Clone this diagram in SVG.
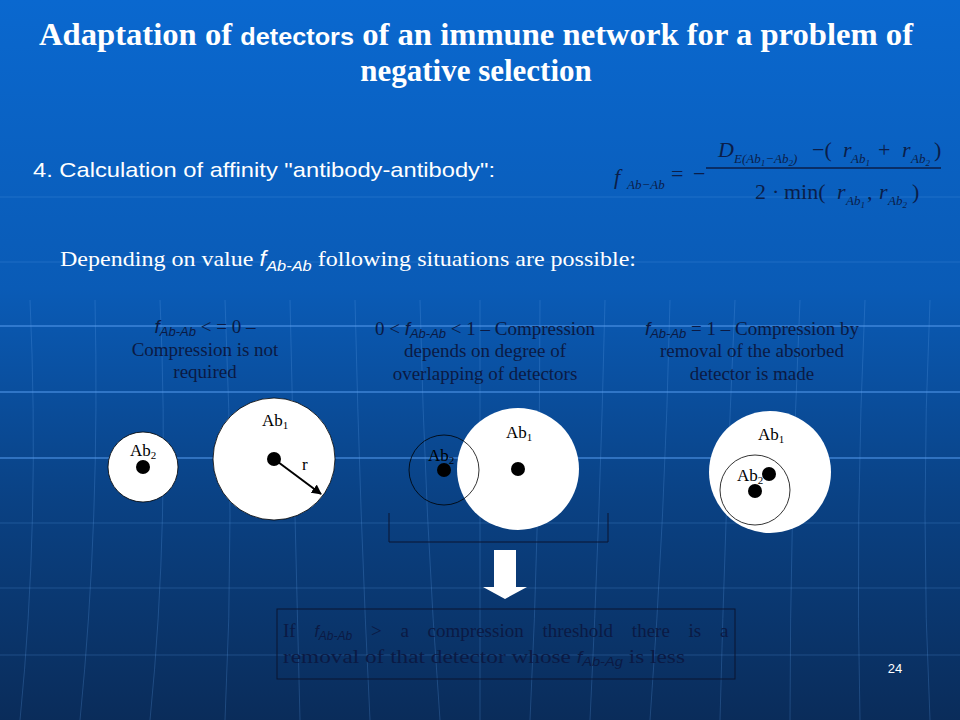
<svg xmlns="http://www.w3.org/2000/svg" width="960" height="720" viewBox="0 0 960 720">
<defs>
<linearGradient id="bg" x1="0" y1="0" x2="0" y2="1">
<stop offset="0" stop-color="#0a68cf"/>
<stop offset="0.4" stop-color="#0a5bb6"/>
<stop offset="0.7" stop-color="#0a4183"/>
<stop offset="1" stop-color="#0a2c5a"/>
</linearGradient>
<marker id="ah" viewBox="0 0 10 10" refX="9" refY="5" markerWidth="5" markerHeight="5" orient="auto">
<path d="M0,0 L10,5 L0,10 z" fill="#000"/>
</marker>
<style>
.title{font-family:"Liberation Serif",serif;font-weight:bold;font-size:31px;fill:#fff}
.ts{font-family:"Liberation Sans",sans-serif;font-weight:bold;font-size:24px}
.sans{font-family:"Liberation Sans",sans-serif;fill:#fff}
.serif{font-family:"Liberation Serif",serif}
.cap{font-family:"Liberation Serif",serif;font-size:19px;fill:#0b1a44}
.math{font-family:"Liberation Serif",serif;fill:#0a1e4a}
.lbl{font-family:"Liberation Serif",serif;font-size:17px;fill:#000}
.sub{font-size:11px}
.grid{stroke:#5f9ee8;stroke-width:1;fill:none;opacity:0.25}
.hl{stroke:#4f96ea;stroke-width:2;opacity:0.55}
.it{font-family:"Liberation Sans",sans-serif;font-style:italic}
</style>
</defs>
<rect width="960" height="720" fill="url(#bg)"/>
<g id="grid">
<line class="grid" x1="0" y1="197" x2="960" y2="197"/>
<line class="grid" x1="0" y1="262" x2="960" y2="262"/>
<line class="hl" x1="0" y1="326" x2="960" y2="326"/>
<line class="hl" x1="0" y1="392" x2="960" y2="392"/>
<line class="hl" x1="0" y1="458" x2="960" y2="458"/>
<line class="grid" x1="0" y1="523" x2="960" y2="523"/>
<line class="grid" x1="0" y1="588" x2="960" y2="588"/>
<line class="grid" x1="0" y1="655" x2="960" y2="655"/>
<path class="grid" d="M30,300 Q40,520 20,720"/>
<path class="grid" d="M95,300 Q100,520 80,720"/>
<path class="grid" d="M160,300 Q170,520 150,720"/>
<path class="grid" d="M225,300 Q235,520 225,720"/>
<path class="grid" d="M290,300 Q295,520 300,720"/>
<path class="grid" d="M355,300 Q360,520 370,720"/>
<path class="grid" d="M420,300 Q425,520 440,720"/>
<path class="grid" d="M480,300 Q480,520 480,720"/>
<path class="grid" d="M540,300 Q540,520 530,720"/>
<path class="grid" d="M605,300 Q600,520 590,720"/>
<path class="grid" d="M670,300 Q665,520 650,720"/>
<path class="grid" d="M735,300 Q725,520 720,720"/>
<path class="grid" d="M800,300 Q790,520 790,720"/>
<path class="grid" d="M865,300 Q855,520 860,720"/>
<path class="grid" d="M930,300 Q920,520 930,720"/>
</g>
<g id="title">
<text class="title" x="476" y="45" text-anchor="middle" textLength="874" lengthAdjust="spacingAndGlyphs">Adaptation of <tspan class="ts">detectors</tspan> of an immune network for a problem of</text>
<text class="title" x="476" y="81" text-anchor="middle">negative selection</text>
</g>
<g id="step4">
<text class="sans" x="33" y="177" font-size="21" textLength="462" lengthAdjust="spacingAndGlyphs">4. Calculation of affinity "antibody-antibody":</text>
</g>
<g id="formula" class="math">
<text x="614" y="184" font-size="22" font-style="italic">f</text>
<text x="627" y="189" font-size="13" font-style="italic">Ab−Ab</text>
<text x="671" y="181" font-size="22">=</text>
<text x="693" y="181" font-size="22">−</text>
<line x1="706" y1="168" x2="941" y2="168" stroke="#0a1e4a" stroke-width="1.3"/>
<text x="718" y="157" font-size="22" font-style="italic">D</text>
<text x="734" y="163" font-size="13" font-style="italic">E(Ab<tspan font-size="9" dy="3">1</tspan><tspan dy="-3">−Ab</tspan><tspan font-size="9" dy="3">2</tspan><tspan dy="-3">)</tspan></text>
<text x="812" y="157" font-size="22">−(</text>
<text x="843" y="157" font-size="22" font-style="italic">r</text>
<text x="851" y="163" font-size="13" font-style="italic">Ab<tspan font-size="9" dy="3">1</tspan></text>
<text x="878" y="157" font-size="22">+</text>
<text x="902" y="157" font-size="22" font-style="italic">r</text>
<text x="911" y="163" font-size="13" font-style="italic">Ab<tspan font-size="9" dy="3">2</tspan></text>
<text x="934" y="157" font-size="22">)</text>
<text x="755" y="199" font-size="22">2</text>
<text x="772" y="199" font-size="22">·</text>
<text x="784" y="199" font-size="22">min(</text>
<text x="837" y="199" font-size="22" font-style="italic">r</text>
<text x="846" y="205" font-size="13" font-style="italic">Ab<tspan font-size="9" dy="3">1</tspan></text>
<text x="867" y="199" font-size="22">,</text>
<text x="879" y="199" font-size="22" font-style="italic">r</text>
<text x="888" y="205" font-size="13" font-style="italic">Ab<tspan font-size="9" dy="3">2</tspan></text>
<text x="912" y="199" font-size="22">)</text>
</g>
<g id="depending">
<text class="serif" x="60" y="266" font-size="22" fill="#fff" textLength="576" lengthAdjust="spacingAndGlyphs">Depending on value <tspan class="it">f</tspan><tspan class="it" font-size="15" dy="5">Ab-Ab</tspan><tspan dy="-5"> following situations are possible:</tspan></text>
</g>
<g id="caption1">
<text class="cap" x="205" y="333" text-anchor="middle"><tspan class="it">f</tspan><tspan class="it" font-size="13" dy="3">Ab-Ab</tspan><tspan dy="-3"> &lt; = 0 –</tspan></text>
<text class="cap" x="205" y="356" text-anchor="middle">Compression is not</text>
<text class="cap" x="205" y="378" text-anchor="middle">required</text>
</g>
<g id="caption2">
<text class="cap" x="485" y="335" text-anchor="middle">0 &lt; <tspan class="it">f</tspan><tspan class="it" font-size="13" dy="3">Ab-Ab</tspan><tspan dy="-3"> &lt; 1 – Compression</tspan></text>
<text class="cap" x="485" y="357" text-anchor="middle">depends on degree of</text>
<text class="cap" x="485" y="380" text-anchor="middle">overlapping of detectors</text>
</g>
<g id="caption3">
<text class="cap" x="752" y="335" text-anchor="middle"><tspan class="it">f</tspan><tspan class="it" font-size="13" dy="3">Ab-Ab</tspan><tspan dy="-3">  = 1 – Compression by</tspan></text>
<text class="cap" x="752" y="357" text-anchor="middle">removal of the absorbed</text>
<text class="cap" x="752" y="380" text-anchor="middle">detector is made</text>
</g>
<g id="case1">
<g id="c1-ab2">
<circle cx="143" cy="467" r="35" fill="#fff" stroke="#000" stroke-width="0.8"/>
<circle cx="143" cy="467" r="7" fill="#000"/>
<text class="lbl" x="130" y="456">Ab<tspan class="sub" dy="3">2</tspan></text>
</g>
<g id="c1-ab1">
<circle cx="274" cy="459" r="61" fill="#fff" stroke="#000" stroke-width="0.8"/>
<circle cx="274" cy="459" r="7" fill="#000"/>
<text class="lbl" x="262" y="426">Ab<tspan class="sub" dy="3">1</tspan></text>
<text class="lbl" x="302" y="470" font-size="19">r</text>
</g>
</g>
<g id="case2">
<g id="c2-ab1">
<circle cx="518" cy="469" r="61" fill="#fff"/>
<circle cx="518" cy="469" r="7" fill="#000"/>
<text class="lbl" x="506" y="438">Ab<tspan class="sub" dy="3">1</tspan></text>
</g>
<g id="c2-ab2">
<circle cx="444" cy="470" r="35" fill="none" stroke="#000" stroke-width="0.8"/>
<circle cx="444" cy="470" r="7" fill="#000"/>
<text class="lbl" x="428" y="461">Ab<tspan class="sub" dy="3">2</tspan></text>
</g>
</g>
<g id="case3">
<g id="c3-ab1">
<circle cx="770" cy="472" r="61" fill="#fff"/>
<circle cx="769" cy="474" r="7" fill="#000"/>
<text class="lbl" x="758" y="440">Ab<tspan class="sub" dy="3">1</tspan></text>
</g>
<g id="c3-ab2">
<circle cx="755" cy="490" r="35" fill="none" stroke="#000" stroke-width="0.8"/>
<circle cx="755" cy="491" r="7" fill="#000"/>
<text class="lbl" x="737" y="481">Ab<tspan class="sub" dy="3">2</tspan></text>
</g>
</g>
<g id="result">
<rect x="277" y="609" width="458" height="70" fill="none" stroke="#0a1530" stroke-width="1"/>
<text class="cap" x="283" y="637" font-size="22" word-spacing="14">If <tspan class="it" font-size="16">f</tspan><tspan class="it" font-size="12" dy="3">Ab-Ab</tspan><tspan dy="-3"> &gt;  a compression threshold there is a</tspan></text>
<text class="cap" x="283" y="663" font-size="22" textLength="402" lengthAdjust="spacingAndGlyphs">removal of that detector whose <tspan class="it" font-size="16">f</tspan><tspan class="it" font-size="12" dy="3">Ab-Ag</tspan><tspan dy="-3"> is less</tspan></text>
</g>
<g id="connectors">
<line x1="274" y1="459" x2="321" y2="494" stroke="#000" stroke-width="2" marker-end="url(#ah)"/>
<path d="M389,513 V542 H608 V513" fill="none" stroke="#0a1530" stroke-width="1"/>
<path d="M494,550 H516 V587 H527 L505,599 L483,587 H494 Z" fill="#fff"/>
</g>
<text class="sans" x="895" y="673" font-size="13" text-anchor="middle">24</text>
</svg>
